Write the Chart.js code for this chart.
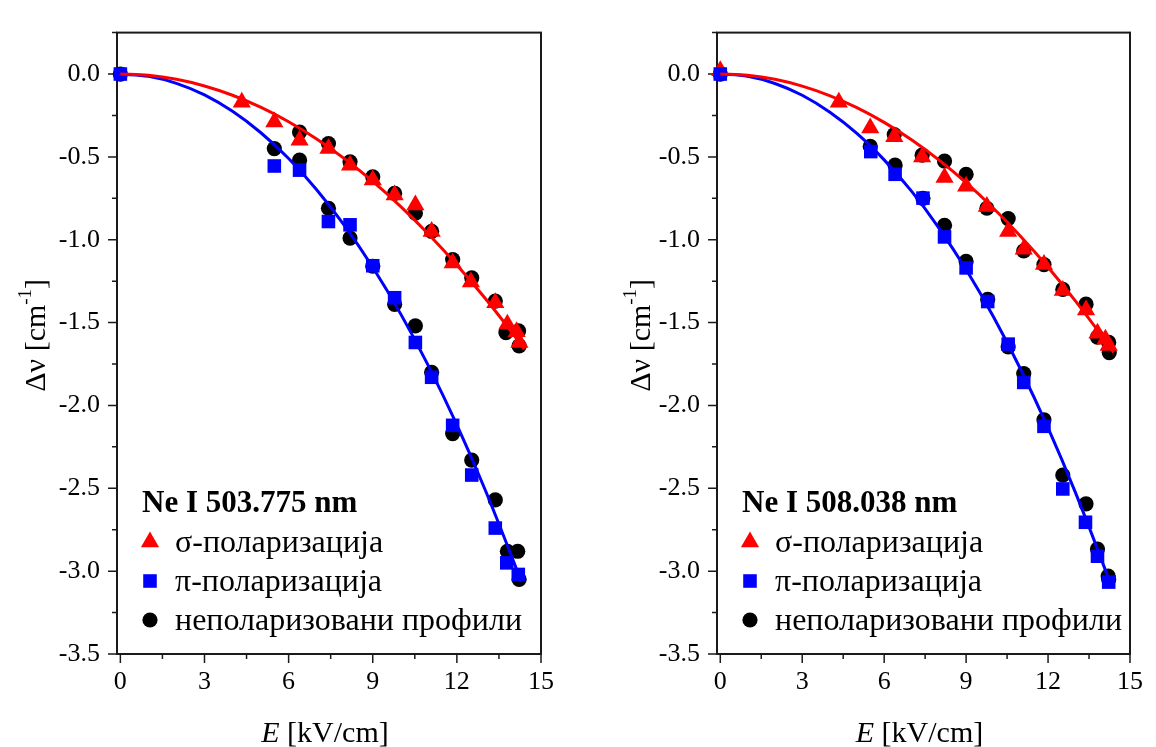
<!DOCTYPE html>
<html>
<head>
<meta charset="utf-8">
<script src="https://cdn.jsdelivr.net/npm/chart.js@4.4.0/dist/chart.umd.min.js"></script>
<style>
  html, body { margin: 0; padding: 0; background: #fff; }
  #wrap { position: relative; width: 1156px; height: 747px; }
  canvas { position: absolute; top: 0; }
</style>
</head>
<body>
<div id="wrap">
  <canvas id="chart503" width="578" height="747" style="left:0"></canvas>
  <canvas id="chart508" width="578" height="747" style="left:578px"></canvas>
</div>
<script>
// tick labels
const eTicks = [0, 3, 6, 9, 12, 15];
const shiftTicks = [0, -0.5, -1.0, -1.5, -2.0, -2.5, -3.0, -3.5];

// Ne I 503.775 nm
const sigma503E = [4.33, 5.49, 6.39, 7.42, 8.19, 9.0, 9.78, 10.52, 11.1, 11.85, 12.5, 13.37, 13.8, 14.13, 14.23];
const sigma503 = [-0.17, -0.29, -0.40, -0.45, -0.55, -0.64, -0.73, -0.79, -0.95, -1.14, -1.255, -1.38, -1.51, -1.555, -1.62];
const pi503E = [0, 5.49, 6.39, 7.42, 8.19, 9.0, 9.78, 10.52, 11.1, 11.85, 12.53, 13.37, 13.78, 14.19];
const pi503 = [0, -0.555, -0.58, -0.89, -0.91, -1.157, -1.35, -1.62, -1.83, -2.12, -2.42, -2.74, -2.95, -3.02];
const unpol503E = [0, 5.49, 6.39, 6.39, 7.42, 7.42, 8.19, 8.19, 9.0, 9.0, 9.78, 9.78, 10.52, 10.52, 11.1, 11.1,
  11.85, 11.85, 12.53, 12.53, 13.37, 13.37, 13.75, 13.8, 14.2, 14.22, 14.17, 14.22];
const unpol503 = [0, -0.45, -0.35, -0.52, -0.42, -0.81, -0.53, -0.99, -0.62, -1.16, -0.72, -1.39, -0.84, -1.52, -0.95, -1.80,
  -1.12, -2.17, -1.23, -2.33, -1.37, -2.57, -1.56, -2.88, -1.55, -1.64, -2.88, -3.05];

// Ne I 508.038 nm
const sigma508E = [0, 4.34, 5.49, 6.37, 7.39, 8.21, 9.0, 9.76, 10.54, 11.11, 11.85, 12.54, 13.39, 13.81, 14.1, 14.22];
const sigma508 = [0.02, -0.17, -0.326, -0.378, -0.50, -0.624, -0.677, -0.80, -0.95, -1.057, -1.15, -1.307, -1.424, -1.564, -1.60, -1.638];
const pi508E = [0, 5.51, 6.40, 7.42, 8.21, 9.0, 9.79, 10.54, 11.11, 11.85, 12.54, 13.37, 13.81, 14.22];
const pi508 = [0, -0.468, -0.605, -0.749, -0.983, -1.17, -1.373, -1.63, -1.861, -2.126, -2.504, -2.705, -2.91, -3.066];
const unpol508E = [0, 5.49, 6.37, 6.40, 7.39, 7.42, 8.21, 8.21, 9.0, 9.0, 9.76, 9.79, 10.54, 10.54, 11.11, 11.11,
  11.85, 11.85, 12.54, 12.54, 13.39, 13.39, 13.81, 13.81, 14.22, 14.24, 14.2, 14.22];
const unpol508 = [0, -0.437, -0.365, -0.55, -0.49, -0.75, -0.525, -0.913, -0.605, -1.131, -0.81, -1.36, -0.872, -1.646, -1.067, -1.808,
  -1.15, -2.087, -1.30, -2.42, -1.389, -2.594, -1.588, -2.867, -1.62, -1.681, -3.03, -3.05];

// fitted curves
const fitSigmaE = [0, 1, 2, 3, 4, 5, 6, 7, 8, 9, 10, 11, 12, 13, 14, 14.4];
const sigma503Fit = [0, -0.008, -0.032, -0.072, -0.128, -0.2, -0.288, -0.392, -0.512, -0.648, -0.8, -0.968, -1.152, -1.352, -1.568, -1.66];
const sigma508Fit = [0, -0.008, -0.032, -0.073, -0.13, -0.203, -0.292, -0.397, -0.518, -0.656, -0.81, -0.98, -1.166, -1.369, -1.588, -1.68];
const fitPiE = [0, 1, 2, 3, 4, 5, 6, 7, 8, 9, 10, 11, 12, 13, 14, 14.3];
const pi503Fit = [0, -0.014, -0.056, -0.126, -0.225, -0.353, -0.51, -0.698, -0.916, -1.166, -1.449, -1.766, -2.118, -2.506, -2.932, -3.066];
const pi508Fit = [0, -0.014, -0.057, -0.128, -0.229, -0.358, -0.518, -0.707, -0.928, -1.18, -1.465, -1.783, -2.136, -2.525, -2.95, -3.085];

const serif = "'Liberation Serif', 'Times New Roman', serif";

function toXY(xs, ys) {
  return xs.map((v, i) => ({ x: v, y: ys[i] }));
}

// frame, minor/major ticks, axis titles and the legend box
const panelDecor = {
  id: 'panelDecor',
  beforeDatasetsDraw(chart) {
    const { ctx, chartArea: a, scales: { x, y } } = chart;
    ctx.save();
    ctx.strokeStyle = '#1a1a1a';
    ctx.lineWidth = 2;
    ctx.strokeRect(a.left, a.top, a.right - a.left, a.bottom - a.top);

    ctx.lineWidth = 1.5;
    ctx.beginPath();
    for (let i = 0; i < eTicks.length; i++) {
      const px = x.getPixelForValue(eTicks[i]);
      ctx.moveTo(px, a.bottom);
      ctx.lineTo(px, a.bottom + 9);
      if (i < eTicks.length - 1) {
        const mx = x.getPixelForValue((eTicks[i] + eTicks[i + 1]) / 2);
        ctx.moveTo(mx, a.bottom);
        ctx.lineTo(mx, a.bottom + 5);
      }
    }
    for (let i = 0; i < shiftTicks.length; i++) {
      const py = y.getPixelForValue(shiftTicks[i]);
      ctx.moveTo(a.left, py);
      ctx.lineTo(a.left - 9, py);
      const next = i < shiftTicks.length - 1 ? shiftTicks[i + 1] : null;
      const mid = [(shiftTicks[i] + (next === null ? shiftTicks[i] - 0.5 : next)) / 2];
      if (i === 0) mid.push(shiftTicks[0] + 0.25);
      mid.forEach(m => {
        if (m < y.min || m > y.max) return;
        const my = y.getPixelForValue(m);
        ctx.moveTo(a.left, my);
        ctx.lineTo(a.left - 5, my);
      });
    }
    ctx.stroke();
    ctx.restore();
  },
  afterDraw(chart, args, opts) {
    const { ctx, chartArea: a } = chart;
    ctx.save();
    ctx.fillStyle = '#000';
    ctx.textBaseline = 'alphabetic';

    // x title: italic E + [kV/cm]
    ctx.font = 'italic 30px ' + serif;
    const wE = ctx.measureText('E').width;
    ctx.font = '30px ' + serif;
    const rest = ' [kV/cm]';
    const wR = ctx.measureText(rest).width;
    let sx = (a.left + a.right) / 2 - 4 - (wE + wR) / 2;
    ctx.font = 'italic 30px ' + serif;
    ctx.fillText('E', sx, 742);
    ctx.font = '30px ' + serif;
    ctx.fillText(rest, sx + wE, 742);

    // y title: Δν [cm^-1]
    ctx.save();
    ctx.translate(opts.yTitleX, (a.top + a.bottom) / 2 - 8);
    ctx.rotate(-Math.PI / 2);
    ctx.font = '30px ' + serif;
    const p1 = 'Δν [cm', p3 = ']';
    const w1 = ctx.measureText(p1).width, w3 = ctx.measureText(p3).width;
    ctx.font = '19px ' + serif;
    const p2 = '-1';
    const w2 = ctx.measureText(p2).width;
    let tx = -(w1 + w2 + w3) / 2;
    ctx.font = '30px ' + serif;
    ctx.fillText(p1, tx, 0);
    ctx.font = '19px ' + serif;
    ctx.fillText(p2, tx + w1, -14);
    ctx.font = '30px ' + serif;
    ctx.fillText(p3, tx + w1 + w2, 0);
    ctx.restore();

    // legend
    ctx.font = 'bold 31px ' + serif;
    ctx.fillText(opts.title, a.left + 25, a.bottom - 142);
    const entries = chart.data.datasets.filter(ds => ds.label);
    entries.forEach((ds, i) => {
      const base = a.bottom - 102 + i * 39;
      ctx.fillStyle = ds.backgroundColor;
      Chart.helpers.drawPoint(ctx, {
        pointStyle: ds.pointStyle, radius: ds.pointRadius, rotation: 0, borderWidth: 0
      }, a.left + 33, base - 10);
      ctx.fillStyle = '#000';
      ctx.font = '32px ' + serif;
      ctx.fillText(ds.label, a.left + 58, base);
    });
    ctx.restore();
  }
};

function makePanel(id, title, axisWidth, padRight, padTop, yTitleX, sig, pi, unpol, sigFit, piFit) {
  return new Chart(document.getElementById(id), {
    type: 'scatter',
    data: {
      datasets: [
        { label: '', data: toXY(fitSigmaE, sigFit), showLine: true, borderColor: '#ff0000', borderWidth: 3,
          pointRadius: 0, cubicInterpolationMode: 'monotone', order: 0 },
        { label: '', data: toXY(fitPiE, piFit), showLine: true, borderColor: '#0000ff', borderWidth: 3,
          pointRadius: 0, cubicInterpolationMode: 'monotone', order: 0 },
        { label: 'σ-поларизација', data: sig, pointStyle: 'triangle', pointRadius: 10.5,
          backgroundColor: '#ff0000', borderWidth: 0, clip: false, order: 2 },
        { label: 'π-поларизација', data: pi, pointStyle: 'rect', pointRadius: 9.6,
          backgroundColor: '#0000ff', borderWidth: 0, clip: false, order: 1 },
        { label: 'неполаризовани профили', data: unpol, pointStyle: 'circle', pointRadius: 7.6,
          backgroundColor: '#000000', borderWidth: 0, clip: false, order: 3 }
      ]
    },
    options: {
      responsive: false,
      animation: false,
      events: [],
      layout: { padding: { left: 0, right: padRight, top: padTop, bottom: 0 } },
      plugins: {
        legend: { display: false },
        tooltip: { enabled: false },
        panelDecor: { title: title, yTitleX: yTitleX }
      },
      scales: {
        x: {
          type: 'linear',
          min: -0.12,
          max: 15,
          afterBuildTicks: s => { s.ticks = eTicks.map(v => ({ value: v })); },
          afterFit: s => { s.height = 93; },
          grid: { display: false, drawTicks: false },
          border: { display: false },
          ticks: { padding: 13, color: '#000', font: { family: serif, size: 26 }, maxRotation: 0 }
        },
        y: {
          type: 'linear',
          min: -3.5,
          max: 0.25,
          afterBuildTicks: s => { s.ticks = shiftTicks.map(v => ({ value: v })); },
          afterFit: s => { s.width = axisWidth; },
          grid: { display: false, drawTicks: false },
          border: { display: false },
          ticks: { padding: 17, color: '#000', font: { family: serif, size: 26 },
            callback: v => v.toFixed(1) }
        }
      }
    },
    plugins: [panelDecor]
  });
}

makePanel('chart503', 'Ne I 503.775 nm', 117, 37, 15, 45,
  toXY(sigma503E, sigma503), toXY(pi503E, pi503), toXY(unpol503E, unpol503), sigma503Fit, pi503Fit);
makePanel('chart508', 'Ne I 508.038 nm', 139, 13, 14, 72,
  toXY(sigma508E, sigma508), toXY(pi508E, pi508), toXY(unpol508E, unpol508), sigma508Fit, pi508Fit);
</script>
</body>
</html>
